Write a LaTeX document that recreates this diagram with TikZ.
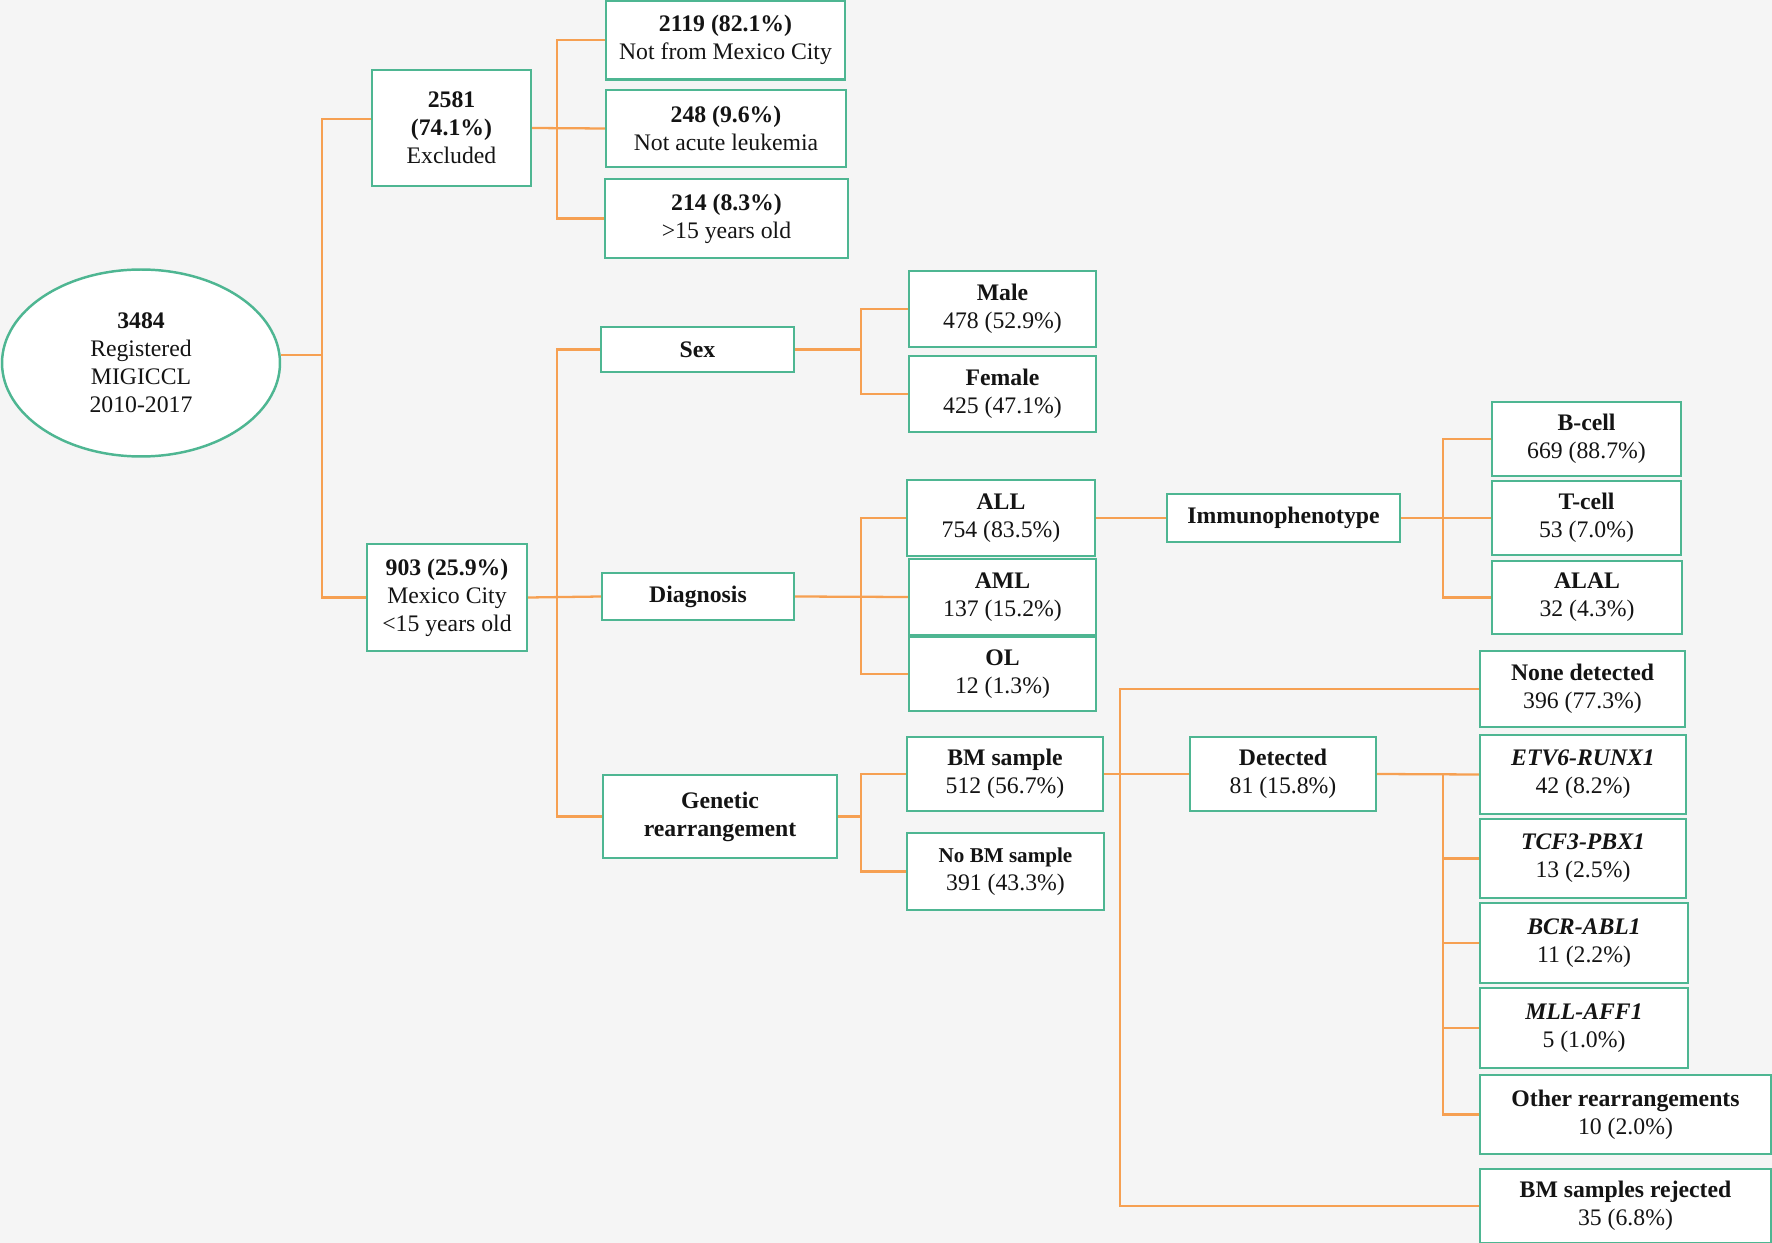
\documentclass[tikz,border=0pt]{standalone}
\usepackage{fontspec}
\setmainfont{Liberation Serif}
\usetikzlibrary{shapes.geometric}
\definecolor{bgc}{RGB}{245,245,245}
\definecolor{boxc}{RGB}{78,182,146}
\definecolor{linec}{RGB}{246,160,82}
\definecolor{txtc}{RGB}{20,20,20}
\tikzset{
  box/.style={draw=boxc, line width=1.4pt, fill=white, align=center, inner sep=2pt, text=txtc,
    font=\fontsize{13.5}{16}\selectfont},
  oval/.style={box, ellipse},
  conn/.style={draw=linec, line width=1.3pt}
}
\begin{document}
\begin{tikzpicture}[x=0.02cm,y=-0.02cm]
\fill[bgc] (0,0) rectangle (1772,1243);
\useasboundingbox (0,0) rectangle (1772,1243);

% nodes
\node[oval, minimum width=5.56cm, minimum height=3.74cm] (root) at (141,363) {\textbf{3484}\\Registered\\MIGICCL\\2010-2017};
\node[box, minimum width=3.18cm, minimum height=2.32cm] (exc) at (451.5,128) {\textbf{2581}\\\textbf{(74.1\%)}\\Excluded};
\node[box, minimum width=4.78cm, minimum height=1.58cm] (nmc) at (725.5,40) {\textbf{2119 (82.1\%)}\\Not from Mexico City};
\node[box, minimum width=4.8cm, minimum height=1.54cm] (nal) at (726,128.5) {\textbf{248 (9.6\%)}\\Not acute leukemia};
\node[box, minimum width=4.86cm, minimum height=1.58cm] (old) at (726.5,218.5) {\textbf{214 (8.3\%)}\\>15 years old};
\node[box, minimum width=3.2cm, minimum height=2.14cm] (mc) at (447,597.5) {\textbf{903 (25.9\%)}\\Mexico City\\<15 years old};

\node[box, minimum width=3.86cm, minimum height=0.9cm] (sex) at (697.5,349.5) {\textbf{Sex}};
\node[box, minimum width=3.84cm, minimum height=0.94cm] (diag) at (698,596.5) {\textbf{Diagnosis}};
\node[box, minimum width=4.68cm, minimum height=1.66cm] (gen) at (720,816.5) {\textbf{Genetic}\\\textbf{rearrangement}};

\node[box, minimum width=3.74cm, minimum height=1.52cm] (male) at (1002.5,309) {\textbf{Male}\\478 (52.9\%)};
\node[box, minimum width=3.74cm, minimum height=1.52cm] (female) at (1002.5,394) {\textbf{Female}\\425 (47.1\%)};
\node[box, minimum width=3.76cm, minimum height=1.52cm] (all) at (1001,518) {\textbf{ALL}\\754 (83.5\%)};
\node[box, minimum width=3.74cm, minimum height=1.52cm] (aml) at (1002.5,597) {\textbf{AML}\\137 (15.2\%)};
\node[box, minimum width=3.74cm, minimum height=1.48cm] (ol) at (1002.5,674) {\textbf{OL}\\12 (1.3\%)};
\node[box, minimum width=3.92cm, minimum height=1.48cm] (bm) at (1005,774) {\textbf{BM sample}\\512 (56.7\%)};
\node[box, minimum width=3.94cm, minimum height=1.54cm] (nobm) at (1005.5,871.5) {{\fontsize{12}{14}\selectfont\textbf{No BM sample}}\\391 (43.3\%)};

\node[box, minimum width=4.66cm, minimum height=0.96cm] (imm) at (1283.5,518) {\textbf{Immunophenotype}};
\node[box, minimum width=3.72cm, minimum height=1.48cm] (det) at (1283,774) {\textbf{Detected}\\81 (15.8\%)};

\node[box, minimum width=3.78cm, minimum height=1.48cm] (bcell) at (1586.5,439) {\textbf{B-cell}\\669 (88.7\%)};
\node[box, minimum width=3.78cm, minimum height=1.48cm] (tcell) at (1586.5,518) {\textbf{T-cell}\\53 (7.0\%)};
\node[box, minimum width=3.8cm, minimum height=1.46cm] (alal) at (1587,597.5) {\textbf{ALAL}\\32 (4.3\%)};
\node[box, minimum width=4.1cm, minimum height=1.52cm] (none) at (1582.5,689) {\textbf{None detected}\\396 (77.3\%)};
\node[box, minimum width=4.12cm, minimum height=1.58cm] (etv) at (1583,774.5) {\textbf{\textit{ETV6-RUNX1}}\\42 (8.2\%)};
\node[box, minimum width=4.12cm, minimum height=1.58cm] (tcf) at (1583,858.5) {\textbf{\textit{TCF3-PBX1}}\\13 (2.5\%)};
\node[box, minimum width=4.16cm, minimum height=1.6cm] (bcr) at (1584,943) {\textbf{\textit{BCR-ABL1}}\\11 (2.2\%)};
\node[box, minimum width=4.16cm, minimum height=1.6cm] (mll) at (1584,1028) {\textbf{\textit{MLL-AFF1}}\\5 (1.0\%)};
\node[box, minimum width=5.82cm, minimum height=1.58cm] (oth) at (1625.5,1114.5) {\textbf{Other rearrangements}\\10 (2.0\%)};
\node[box, minimum width=5.82cm, minimum height=1.48cm] (rej) at (1625.5,1206) {\textbf{BM samples rejected}\\35 (6.8\%)};

% bus coordinates
\coordinate (b1) at (322,355);
\coordinate (b1t) at (322,119);
\coordinate (b2) at (557,128);
\coordinate (b3) at (557,597.5);
\coordinate (b4) at (861,349.5);
\coordinate (b5) at (861,597);
\coordinate (b6) at (861,816.5);
\coordinate (b7) at (1443,518);
\coordinate (b8) at (1120,774);
\coordinate (b9) at (1443,774);

% connectors
\draw[conn] (root.east |- b1) -- (b1);
\draw[conn] (exc.west |- b1t) -- (b1t) -- (b1) |- (mc.west);
\draw[conn] (exc.east) -- (nal.west);
\draw[conn] (nmc.west) -| (b2) |- (old.west);
\draw[conn] (mc.east) -- (diag.west);
\draw[conn] (sex.west) -| (b3) |- (gen.west);
\draw[conn] (sex.east) -- (b4);
\draw[conn] (male.west) -| (b4) |- (female.west);
\draw[conn] (diag.east) -- (aml.west);
\draw[conn] (all.west) -| (b5) |- (ol.west);
\draw[conn] (all.east) -- (imm.west);
\draw[conn] (imm.east) -- (tcell.west);
\draw[conn] (bcell.west) -| (b7) |- (alal.west);
\draw[conn] (gen.east) -- (b6);
\draw[conn] (bm.west) -| (b6) |- (nobm.west);
\draw[conn] (bm.east) -- (det.west);
\draw[conn] (none.west) -| (b8) |- (rej.west);
\draw[conn] (det.east) -- (etv.west);
\draw[conn] (b9) |- (oth.west);
\draw[conn] (tcf.west) -- (tcf.west -| b9);
\draw[conn] (bcr.west) -- (bcr.west -| b9);
\draw[conn] (mll.west) -- (mll.west -| b9);
\end{tikzpicture}
\end{document}
